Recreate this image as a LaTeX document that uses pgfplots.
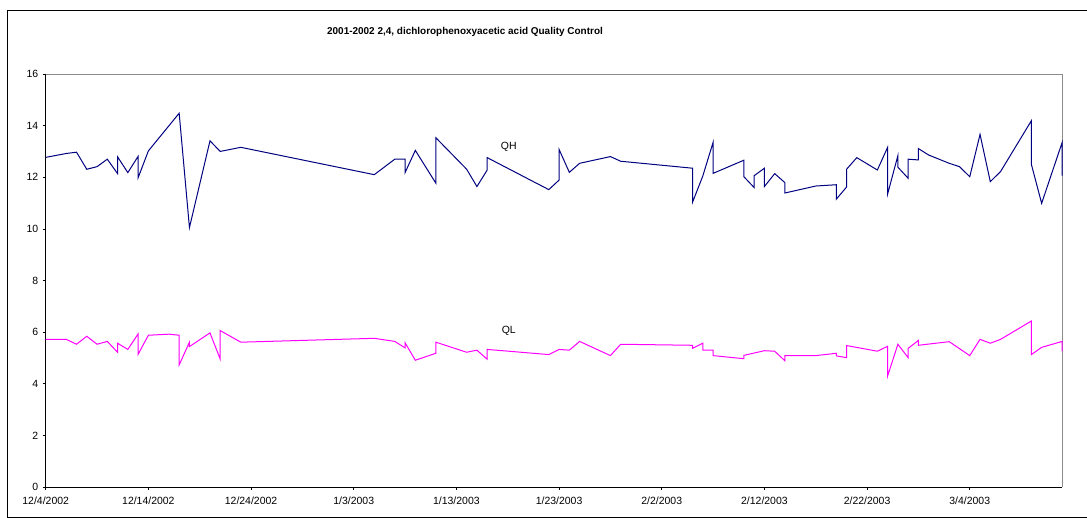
\documentclass[border=0pt]{standalone}
\usepackage{fontspec}
\setmainfont{Liberation Sans}
\usepackage{pgfplots}
\pgfplotsset{compat=1.18}
\definecolor{qhblue}{RGB}{0,0,128}
\definecolor{qlmag}{RGB}{255,0,255}
\begin{document}
\begin{tikzpicture}
\useasboundingbox (0bp,0bp) rectangle (1087bp,518bp);
% chart area frame
\draw[line width=0.8bp] (7bp,0.5bp) -- (7bp,508bp) -- (1087bp,508bp);
\draw[line width=0.8bp] (7bp,0.5bp) -- (1087bp,0.5bp);
\node[font=\bfseries\fontsize{10}{12}\selectfont] at (465bp,486bp)
  {2001-2002 2,4, dichlorophenoxyacetic acid Quality Control};
\begin{axis}[
    at={(45.7bp,31bp)}, anchor=south west,
    scale only axis,
    width=1016.6bp, height=413bp,
    xmin=0, xmax=99, ymin=0, ymax=16,
    axis lines*=left,
    axis line style={black, line width=0.8bp},
    xtick={0,10,...,90},
    xticklabels={12/4/2002,12/14/2002,12/24/2002,1/3/2003,1/13/2003,1/23/2003,2/2/2003,2/12/2003,2/22/2003,3/4/2003},
    ytick={0,2,...,16},
    tick align=outside,
    major tick length=3bp,
    tick style={black, line width=0.6bp},
    /pgf/number format/assume math mode=true,
    tick label style={font=\fontsize{10.5}{12}\selectfont},
    xticklabel style={yshift=-3bp},
    yticklabel style={xshift=-1bp},
    clip=false,
]
\draw[gray!90, line width=0.8bp] (rel axis cs:0,1) -- (rel axis cs:1,1) -- (rel axis cs:1,0);
\addplot[qhblue, line width=1bp, mark=none] coordinates {
(0,12.77)(2,12.92)(3,12.97)(4,12.31)(5,12.41)(6,12.70)(7,12.14)(7,12.79)(8,12.18)(9,12.81)(9,11.98)(10,13.02)(13,14.48)(14,10.05)(16,13.41)(17,13.00)(19,13.16)(32,12.10)(34,12.70)(35,12.70)(35,12.18)(36,13.04)(38,11.77)(38,13.53)(41,12.31)(42,11.64)(43,12.28)(43,12.76)(49,11.52)(50,11.89)(50,13.08)(51,12.19)(52,12.54)(55,12.80)(56,12.62)(63,12.35)(63,11.03)(64,12.05)(65,13.35)(65,12.15)(68,12.66)(68,12.02)(69,11.60)(69,12.06)(70,12.35)(70,11.64)(71,12.14)(72,11.79)(72,11.39)(75,11.66)(77,11.71)(77,11.15)(78,11.62)(78,12.31)(79,12.76)(81,12.28)(82,13.16)(82,11.35)(83,12.84)(83,12.39)(84,11.96)(84,12.70)(85,12.67)(85,13.11)(86,12.86)(88,12.54)(89,12.41)(90,12.02)(91,13.66)(92,11.83)(93,12.22)(96,14.19)(96,12.50)(97,10.99)(99,13.35)(99,12.06)
};
\addplot[qlmag, line width=1bp, mark=none] coordinates {
(0,5.72)(2,5.72)(3,5.53)(4,5.84)(5,5.53)(6,5.64)(7,5.22)(7,5.57)(8,5.33)(9,5.93)(9,5.14)(10,5.88)(12,5.92)(13,5.88)(13,4.73)(14,5.61)(14,5.44)(16,5.97)(17,4.95)(17,6.06)(19,5.61)(32,5.76)(34,5.64)(35,5.39)(35,5.59)(36,4.91)(38,5.18)(38,5.61)(41,5.22)(42,5.30)(43,4.95)(43,5.33)(49,5.13)(50,5.33)(51,5.30)(52,5.64)(55,5.09)(56,5.53)(63,5.49)(63,5.37)(64,5.57)(64,5.30)(65,5.30)(65,5.09)(68,4.97)(68,5.10)(69,5.19)(70,5.28)(71,5.26)(72,4.89)(72,5.09)(75,5.09)(77,5.18)(77,5.08)(78,5.01)(78,5.48)(81,5.26)(82,5.45)(82,4.30)(83,5.53)(84,5.01)(84,5.37)(85,5.68)(85,5.49)(88,5.63)(90,5.09)(91,5.72)(92,5.57)(93,5.72)(96,6.43)(96,5.13)(97,5.41)(99,5.64)(99,5.26)
};
\node[font=\fontsize{10.5}{12}\selectfont] at (axis cs:45.1,13.18) {QH};
\node[font=\fontsize{10.5}{12}\selectfont] at (axis cs:45.1,6.05) {QL};
\end{axis}
\end{tikzpicture}
\end{document}
